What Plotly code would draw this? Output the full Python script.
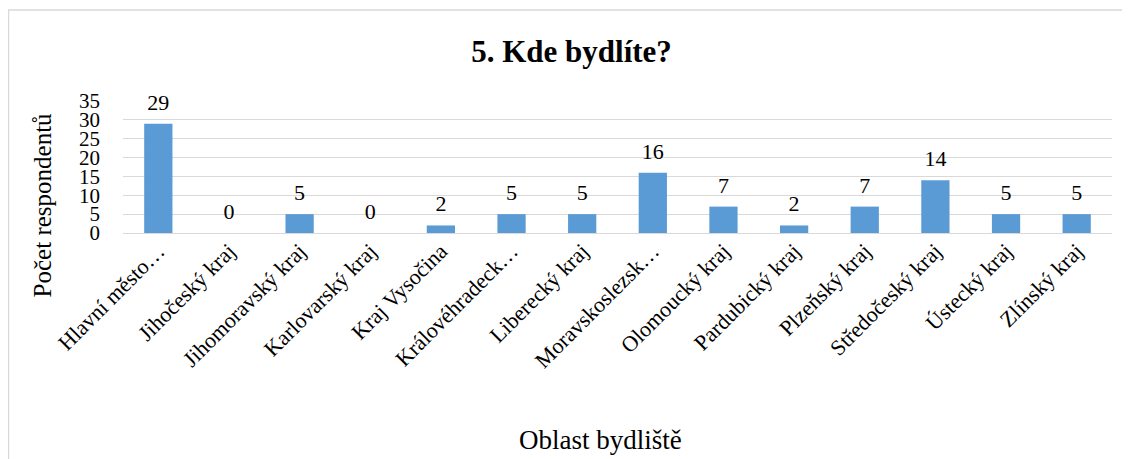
import plotly.graph_objects as go

categories = ["Hlavní město…", "Jihočeský kraj", "Jihomoravský kraj", "Karlovarský kraj",
              "Kraj Vysočina", "Královéhradeck…", "Liberecký kraj", "Moravskoslezsk…",
              "Olomoucký kraj", "Pardubický kraj", "Plzeňský kraj", "Středočeský kraj",
              "Ústecký kraj", "Zlínský kraj"]
values = [29, 0, 5, 0, 2, 5, 5, 16, 7, 2, 7, 14, 5, 5]
y_ticks = [0, 5, 10, 15, 20, 25, 30, 35]

FONT = "Liberation Serif"

fig = go.Figure()
fig.add_trace(go.Bar(
    x=categories, y=values,
    marker=dict(color="#5b9bd5", line=dict(width=0)),
    width=0.4,
))
fig.add_trace(go.Scatter(
    x=categories, y=values, mode="markers+text",
    marker=dict(size=12, opacity=0, color="white"),
    text=[str(v) for v in values], textposition="top center",
    textfont=dict(family=FONT, size=22, color="black"),
    cliponaxis=False, hoverinfo="skip",
))

fig.update_layout(
    width=1130, height=459,
    margin=dict(l=115, r=26, t=93, b=234),
    paper_bgcolor="white", plot_bgcolor="white",
    showlegend=False,
    font=dict(family=FONT, color="black"),
    title=dict(text="<b>5. Kde bydlíte?</b>", x=0.4987, xanchor="center", y=0.905, yanchor="middle",
               font=dict(family=FONT, size=31, color="black")),
    xaxis=dict(tickangle=-45, tickfont=dict(family=FONT, size=22, color="black"),
               range=[-0.5, len(categories) - 0.5],
               showgrid=False, showline=False, ticks="", automargin=False),
    yaxis=dict(range=[0, 35], tickvals=y_ticks, tickfont=dict(family=FONT, size=21, color="black"),
               showgrid=True, gridcolor="#d9d9d9", gridwidth=1.3, zeroline=True,
               zerolinecolor="#d9d9d9", zerolinewidth=1.3, showline=False, ticks="",
               ticklabelstandoff=22, automargin=False),
    shapes=[dict(type="rect", xref="paper", yref="paper", x0=-0.1158, x1=1.2, y0=-2.2, y1=1.689,
                 line=dict(color="#d9d9d9", width=1.5), fillcolor="rgba(0,0,0,0)", layer="below")],
    annotations=[
        dict(text="Počet respondentů", xref="paper", yref="paper", x=-0.0815, y=0.212,
             textangle=-90, showarrow=False, xanchor="center", yanchor="middle",
             font=dict(family=FONT, size=25, color="black")),
        dict(text="Oblast bydliště", xref="paper", yref="paper", x=0.4833, y=-1.57,
             showarrow=False, xanchor="center", yanchor="middle",
             font=dict(family=FONT, size=27, color="black")),
    ],
)

fig.write_html("out.html")
